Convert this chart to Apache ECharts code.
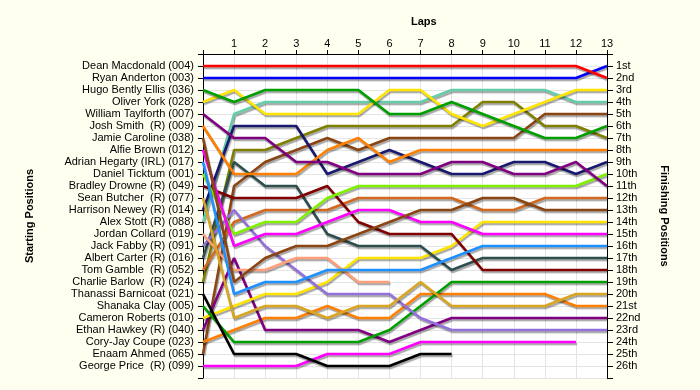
<!DOCTYPE html>
<html>
<head>
<meta charset="utf-8">
<script src="https://cdn.jsdelivr.net/npm/echarts@6/dist/echarts.min.js"></script>
<style>
html,body{margin:0;padding:0;background:#FFFFF0;}
#chart{width:700px;height:390px;}
</style>
</head>
<body>
<div id="chart"></div>
<script>
// Starting grid (index 0 = starting position 1)
const driverNames = [
  'Dean Macdonald (004)', 'Ryan Anderton (003)', 'Hugo Bently Ellis (036)', 'Oliver York (028)',
  'William Taylforth (007)', 'Josh Smith  (R) (009)', 'Jamie Caroline (038)', 'Alfie Brown (012)',
  'Adrian Hegarty (IRL) (017)', 'Daniel Ticktum (001)', 'Bradley Drowne (R) (049)', 'Sean Butcher  (R) (077)',
  'Harrison Newey (R) (014)', 'Alex Stott (R) (088)', 'Jordan Collard (019)', 'Jack Fabby (R) (091)',
  'Albert Carter (R) (016)', 'Tom Gamble  (R) (052)', 'Charlie Barlow  (R) (024)', 'Thanassi Barnicoat (021)',
  'Shanaka Clay (005)', 'Cameron Roberts (010)', 'Ethan Hawkey (R) (040)', 'Cory-Jay Coupe (023)',
  'Enaam Ahmed (065)', 'George Price  (R) (099)'
];
const finishLabels = ['1st','2nd','3rd','4th','5th','6th','7th','8th','9th','10th','11th','12th','13th',
  '14th','15th','16th','17th','18th','19th','20th','21st','22nd','23rd','24th','25th','26th'];
const lapLabels = ['1','2','3','4','5','6','7','8','9','10','11','12','13'];

// Position at lap 0..13 for each driver
const dean      = [1,1,1,1,1,1,1,1,1,1,1,1,1,2];
const ryan      = [2,2,2,2,2,2,2,2,2,2,2,2,2,1];
const hugo      = [3,4,3,3,3,3,5,5,4,5,6,7,7,6];
const oliver    = [4,3,5,5,5,5,3,3,5,6,5,4,3,3];
const william   = [5,7,7,9,9,10,10,10,9,9,10,10,9,11];
const josh      = [6,10,10,10,8,7,9,8,8,8,8,8,8,8];
const jamie     = [7,19,17,16,16,15,14,13,13,12,12,13,13,13];
const alfie     = [8,16,15,15,14,13,13,14,14,15,15,15,15,15];
const adrian    = [9,20,19,19,18,18,18,18,17,16,16,16,16,16];
const daniel    = [10,15,14,14,12,11,11,11,11,11,11,11,11,10];
const bradley   = [11,12,12,12,11,14,15,15,15,18,18,18,18,18];
const sean      = [12,22,21,21,22,21,21,19,21,21,21,21,20,20];
const harrison  = [13,6,6,6,10,9,8,9,10,10,9,9,10,9];
const alex      = [14,5,4,4,4,4,4,4,3,3,3,3,4,4];
const jordan    = [15,18,18,17,17,19,19];
const jack      = [16,13,16,18,20,20,20,22,23,23,23,23,23,23];
const albert    = [17,9,11,11,15,16,16,16,18,17,17,17,17,17];
const tom       = [18,14,13,13,13,12,12,12,12,13,13,12,12,12];
const charlie   = [19,8,8,7,6,6,6,6,6,4,4,6,6,7];
const thanassi  = [20,25,25,25,26,26,26,25,25];
const shanaka   = [21,24,24,24,24,24,23,21,19,19,19,19,19,19];
const cameron   = [22,21,20,20,19,17,17,17,16,14,14,14,14,14];
const ethan     = [23,17,23,23,23,23,24,23,22,22,22,22,22,22];
const coryjay   = [24,23,22,22,21,22,22,20,20,20,20,20,21,21];
const enaam     = [25,11,9,8,7,8,7,7,7,7,7,5,5,5];
const george    = [26,26,26,26,25,25,25,24,24,24,24,24,24];

const allPositions = [dean, ryan, hugo, oliver, william, josh, jamie, alfie, adrian, daniel, bradley, sean,
  harrison, alex, jordan, jack, albert, tom, charlie, thanassi, shanaka, cameron, ethan, coryjay, enaam, george];

const driverColors = ['#FF0000','#0000FF','#009F00','#FFE400','#800080','#FF8000','#8B4513','#FF00FF',
  '#1E90FF','#7FF000','#800000','#DAA520','#191970','#66CDAA','#FFA07A','#9370DB',
  '#2F4F4F','#D2691E','#808000','#000000',
  '#009F00','#FFE400','#800080','#FF8000','#8B4513','#FF00FF'];

const font = 'Liberation Sans, Arial, sans-serif';

const series = allPositions.map((arr, i) => ({
  type: 'line',
  name: driverNames[i],
  data: arr.map((p, lap) => [lap, p]),
  symbol: 'none',
  silent: true,
  animation: false,
  z: 2 + (25 - i) * 0.01,
  lineStyle: {
    width: 2.6,
    color: driverColors[i],
    shadowColor: 'rgba(0,0,0,0.35)',
    shadowOffsetX: 1,
    shadowOffsetY: 2,
    shadowBlur: 1
  }
}));

const chart = echarts.init(document.getElementById('chart'), null, {renderer: 'canvas'});
chart.setOption({
  backgroundColor: '#FFFFF0',
  animation: false,
  title: {
    text: 'Laps', left: 406, top: 11,
    textStyle: {fontSize: 11, fontWeight: 'bold', color: '#000', fontFamily: font}
  },
  grid: {left: 203, right: 93, top: 54, bottom: 12, show: true, backgroundColor: '#FFFFFF', borderWidth: 0},
  xAxis: {
    type: 'value', min: 0, max: 13, interval: 1, position: 'top',
    axisLine: {show: true, lineStyle: {color: '#000', width: 1}},
    axisTick: {show: true, length: 4, lineStyle: {color: '#000'}},
    axisLabel: {color: '#000', fontSize: 11, fontFamily: font, margin: 5,
      formatter: v => (v >= 1 ? lapLabels[v - 1] : '')},
    splitLine: {show: true, lineStyle: {color: '#E4E4E4', width: 1}}
  },
  yAxis: [
    {
      type: 'value', inverse: true, min: 0, max: 27, interval: 1, position: 'left',
      name: 'Starting Positions', nameLocation: 'middle', nameRotate: 90, nameGap: 168,
      nameTextStyle: {fontSize: 11, fontWeight: 'bold', color: '#000', fontFamily: font},
      axisLine: {show: true, lineStyle: {color: '#000', width: 1}},
      axisTick: {show: true, length: 5, lineStyle: {color: '#000'}},
      axisLabel: {color: '#000', fontSize: 11, fontFamily: font, margin: 9,
        formatter: v => driverNames[v - 1] || ''},
      splitLine: {show: true, lineStyle: {color: '#E4E4E4', width: 1}}
    },
    {
      type: 'value', inverse: true, min: 0, max: 27, interval: 1, position: 'right',
      name: 'Finishing Positions', nameLocation: 'middle', nameRotate: -90, nameGap: 52,
      nameTextStyle: {fontSize: 11, fontWeight: 'bold', color: '#000', fontFamily: font},
      axisLine: {show: true, lineStyle: {color: '#000', width: 1}},
      axisTick: {show: true, length: 6, lineStyle: {color: '#000'}},
      axisLabel: {color: '#000', fontSize: 11, fontFamily: font, margin: 9,
        formatter: v => finishLabels[v - 1] || ''},
      splitLine: {show: false}
    }
  ],
  series: series
});
</script>
</body>
</html>
